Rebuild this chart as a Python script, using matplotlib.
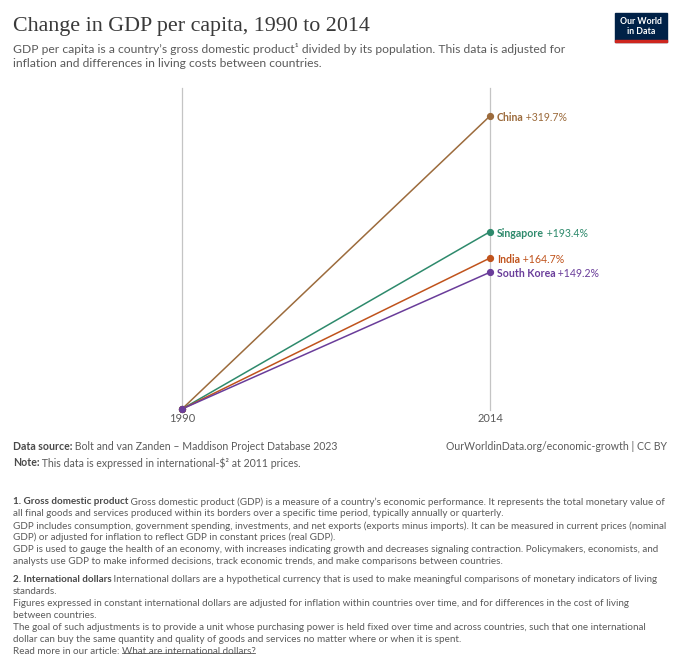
import matplotlib
matplotlib.use("Agg")
import matplotlib.pyplot as plt
from matplotlib.patches import Rectangle

# Datos
anios = [1990, 2014]
paises = ["China", "Singapore", "India", "South Korea"]
cambio_pct = [319.7, 193.4, 164.7, 149.2]
colores = ["#9c6b3c", "#2e8a6c", "#c0531c", "#6a3d9a"]

W, H = 680, 666
plt.rcParams['font.family'] = ['Lato', 'DejaVu Sans']

fig = plt.figure(figsize=(W / 100, H / 100), dpi=100)
renderer = fig.canvas.get_renderer()

def fx(px):
    return px / W

def fy(py):
    return 1 - py / H

def texto_mixto(x, y, partes, size, ha='left'):
    # partes: lista de (texto, peso, color)
    objs = []
    cx = x
    for t, peso, col in partes:
        obj = fig.text(fx(cx), fy(y), t, fontsize=size, fontweight=peso,
                       color=col, va='center_baseline', ha='left')
        bb = obj.get_window_extent(renderer)
        cx += bb.width - 0.3
        objs.append(obj)
    return objs, cx

# Ejes del gráfico
x0, x1 = 182, 490
ytop, ycero = 88, 409
ax = fig.add_axes([fx(x0), fy(ycero), (x1 - x0) / W, (ycero - ytop) / H])
ax.set_xlim(anios[0], anios[1])
ax.set_ylim(0, 350.2)
ax.axis('off')
for a in anios:
    ax.plot([a, a], [-1, 350.2], color="#c4c4c4", lw=0.9, zorder=1, clip_on=False)

for p, v, c in zip(paises, cambio_pct, colores):
    ax.plot(anios, [0, v], color=c, lw=1.1, zorder=2, clip_on=False)
    ax.plot(anios, [0, v], 'o', color=c, ms=4.2, zorder=3, clip_on=False)

fig.canvas.draw()
for p, v, c in zip(paises, cambio_pct, colores):
    _, ypix = ax.transData.transform((anios[1], v))
    ypx = H - ypix
    texto_mixto(497, ypx + 0.5, [(p, 'bold', c), (f" +{v}%", 'normal', c)], 7.6)

fig.text(fx(x0), fy(419), str(anios[0]), fontsize=8, color="#5b5b5b",
         ha='center', va='center')
fig.text(fx(x1), fy(419), str(anios[1]), fontsize=8, color="#5b5b5b",
         ha='center', va='center')

# Título y subtítulo
fig.text(fx(13), fy(31), "Change in GDP per capita, 1990 to 2014",
         fontsize=15.8, family=['Liberation Serif', 'DejaVu Serif'],
         color="#3a3a3a", va='baseline')
fig.text(fx(13), fy(53), "GDP per capita is a country\u2019s gross domestic product\u00b9 divided by its population. This data is adjusted for",
         fontsize=8.7, color="#5b5b5b", va='baseline')
fig.text(fx(13), fy(67), "inflation and differences in living costs between countries.",
         fontsize=8.7, color="#5b5b5b", va='baseline')

# Logo
fig.patches.append(Rectangle((fx(615), fy(42)), 52 / W, 29 / H,
                             transform=fig.transFigure, color="#002147"))
fig.patches.append(Rectangle((fx(615), fy(42)), 52 / W, 2.5 / H,
                             transform=fig.transFigure, color="#ce261e"))
fig.text(fx(641), fy(26.5), "Our World\nin Data", fontsize=6.3, fontweight='bold',
         color="white", ha='center', va='center', linespacing=1.0)

# Pie
gris = "#5b5b5b"
texto_mixto(13, 445, [("Data source:", 'bold', "#4a4a4a"),
                      (" Bolt and van Zanden \u2013 Maddison Project Database 2023", 'normal', gris)], 7.6)
texto_mixto(13, 462, [("Note:", 'bold', "#4a4a4a"),
                      (" This data is expressed in international-$\u00b2 at 2011 prices.", 'normal', gris)], 7.6)
fig.text(fx(667), fy(445), "OurWorldinData.org/economic-growth | CC BY",
         fontsize=7.6, color=gris, ha='right', va='center_baseline')

# Notas
fs = 7.1
notas = [
    [("1. Gross domestic product", 'bold'), (" Gross domestic product (GDP) is a measure of a country\u2019s economic performance. It represents the total monetary value of", 'normal')],
    [("all final goods and services produced within its borders over a specific time period, typically annually or quarterly.", 'normal')],
    [("GDP includes consumption, government spending, investments, and net exports (exports minus imports). It can be measured in current prices (nominal", 'normal')],
    [("GDP) or adjusted for inflation to reflect GDP in constant prices (real GDP).", 'normal')],
    [("GDP is used to gauge the health of an economy, with increases indicating growth and decreases signaling contraction. Policymakers, economists, and", 'normal')],
    [("analysts use GDP to make informed decisions, track economic trends, and make comparisons between countries.", 'normal')],
    [("2. International dollars", 'bold'), (" International dollars are a hypothetical currency that is used to make meaningful comparisons of monetary indicators of living", 'normal')],
    [("standards.", 'normal')],
    [("Figures expressed in constant international dollars are adjusted for inflation within countries over time, and for differences in the cost of living", 'normal')],
    [("between countries.", 'normal')],
    [("The goal of such adjustments is to provide a unit whose purchasing power is held fixed over time and across countries, such that one international", 'normal')],
    [("dollar can buy the same quantity and quality of goods and services no matter where or when it is spent.", 'normal')],
    [("Read more in our article: ", 'normal'), ("What are international dollars?", 'link')],
]
ys = [501, 513, 525, 536.5, 548.5, 560.5, 578, 590, 602.5, 614, 626, 638, 650]
for linea, y in zip(notas, ys):
    partes = []
    for t, peso in linea:
        if peso == 'bold':
            partes.append((t, 'bold', "#4a4a4a"))
        else:
            partes.append((t, 'normal', gris))
    objs, fin = texto_mixto(13, y, partes, fs)
    if linea[-1][1] == 'link':
        bb = objs[-1].get_window_extent(renderer)
        fig.lines.append(plt.Line2D([bb.x0 / W, bb.x1 / W], [fy(y + 2.5)] * 2,
                                    transform=fig.transFigure, color=gris, lw=0.6))

fig.savefig("out.png", dpi=100)
